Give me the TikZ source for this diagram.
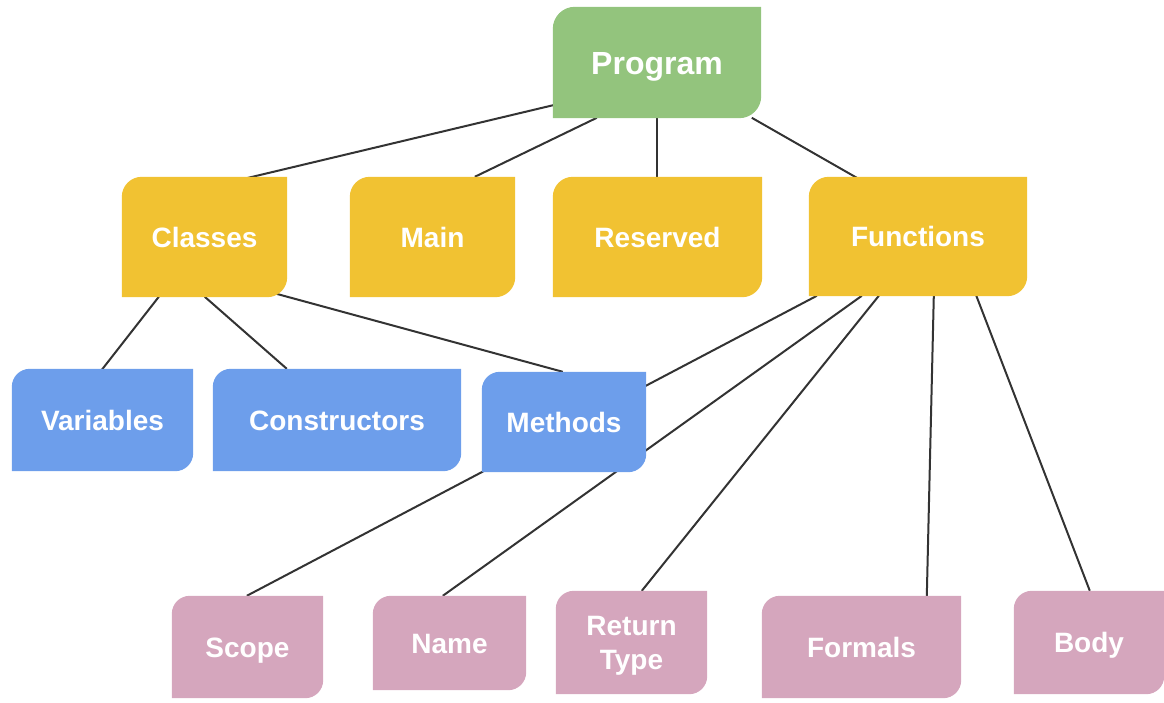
\documentclass[tikz,border=0pt]{standalone}
\usepackage{fontspec}
\setmainfont{Liberation Sans}
\usetikzlibrary{calc}
\pgfdeclarelayer{edges}
\pgfdeclarelayer{background}
\pgfsetlayers{edges,background,main}
\definecolor{cgreen}{HTML}{93C47D}
\definecolor{cyellow}{HTML}{F1C232}
\definecolor{cblue}{HTML}{6D9EEB}
\definecolor{cpink}{HTML}{D5A6BD}
\definecolor{cline}{HTML}{333333}
\tikzset{
  box/.style={inner sep=0pt, text=white, align=center, text height=20pt, text depth=0pt,
    font=\bfseries\fontsize{28}{34}\selectfont},
  bigbox/.style={box, text height=23pt, font=\bfseries\fontsize{32}{38}\selectfont},
  twoline/.style={box, text height=54pt},
  link/.style={draw=cline, line width=2pt}
}
\begin{document}
\begin{tikzpicture}[x=1pt,y=1pt]
\useasboundingbox (0,0) rectangle (1164,-702);
% nodes (text; fills drawn on background layer)
\node[bigbox, minimum width=208pt, minimum height=111pt] (prog) at (657,-62.5) {Program};
\node[box, minimum width=165pt, minimum height=120pt] (cls) at (204.5,-237) {Classes};
\node[box, minimum width=165pt, minimum height=120pt] (main) at (432.5,-237) {Main};
\node[box, minimum width=209pt, minimum height=120pt] (res) at (657.5,-237) {Reserved};
\node[box, minimum width=218pt, minimum height=119pt] (func) at (918,-236.5) {Functions};
\node[box, minimum width=181pt, minimum height=102pt] (var) at (102.5,-420) {Variables};
\node[box, minimum width=248pt, minimum height=102pt] (cons) at (337,-420) {Constructors};
\node[box, minimum width=164pt, minimum height=100pt] (meth) at (564,-422) {Methods};
\node[box, minimum width=151pt, minimum height=102pt] (scope) at (247.5,-647) {Scope};
\node[box, minimum width=153pt, minimum height=94pt] (name) at (449.5,-643) {Name};
\node[twoline, minimum width=151pt, minimum height=103pt] (ret) at (631.5,-642.5) {Return\\Type};
\node[box, minimum width=199pt, minimum height=102pt] (form) at (861.5,-647) {Formals};
\node[box, minimum width=150pt, minimum height=103pt] (body) at (1089,-642.5) {Body};
% box fills
\begin{pgfonlayer}{background}
\foreach \n/\c/\r in {prog/cgreen/22, cls/cyellow/20, main/cyellow/20, res/cyellow/20, func/cyellow/20,
    var/cblue/18, cons/cblue/18, meth/cblue/18,
    scope/cpink/18, name/cpink/18, ret/cpink/18, form/cpink/18, body/cpink/18}{
  \fill[\c] (\n.north east) -- ([yshift=\r pt]\n.south east)
    arc[start angle=0, end angle=-90, radius=\r pt]
    -- (\n.south west) -- ([yshift=-\r pt]\n.north west)
    arc[start angle=180, end angle=90, radius=\r pt] -- cycle;
}
\end{pgfonlayer}
% connectors
\begin{pgfonlayer}{edges}
\draw[link] ([shift={(2,-98)}]prog.north west) -- ([shift={(118,-3)}]cls.north west);
\draw[link] ([shift={(44,-111)}]prog.north west) -- ([shift={(125,0)}]main.north west);
\draw[link] ([shift={(104,-111)}]prog.north west) -- ([shift={(104,0)}]res.north west);
\draw[link] ([shift={(199,-111)}]prog.north west) -- ([shift={(48,-1)}]func.north west);
\draw[link] ([shift={(37,-120)}]cls.north west) -- ([shift={(90,-1)}]var.north west);
\draw[link] ([shift={(83,-120)}]cls.north west) -- ([shift={(74,0)}]cons.north west);
\draw[link] ([shift={(151,-116)}]cls.north west) -- ([shift={(81,0)}]meth.north west);
\draw[link] ([shift={(8,-119)}]func.north west) -- ([shift={(75,0)}]scope.north west);
\draw[link] ([shift={(53,-119)}]func.north west) -- ([shift={(70,0)}]name.north west);
\draw[link] ([shift={(70,-119)}]func.north west) -- ([shift={(86,0)}]ret.north west);
\draw[link] ([shift={(125,-119)}]func.north west) -- ([shift={(165,0)}]form.north west);
\draw[link] ([shift={(166,-115)}]func.north west) -- ([shift={(76,0)}]body.north west);
\end{pgfonlayer}
\end{tikzpicture}
\end{document}
